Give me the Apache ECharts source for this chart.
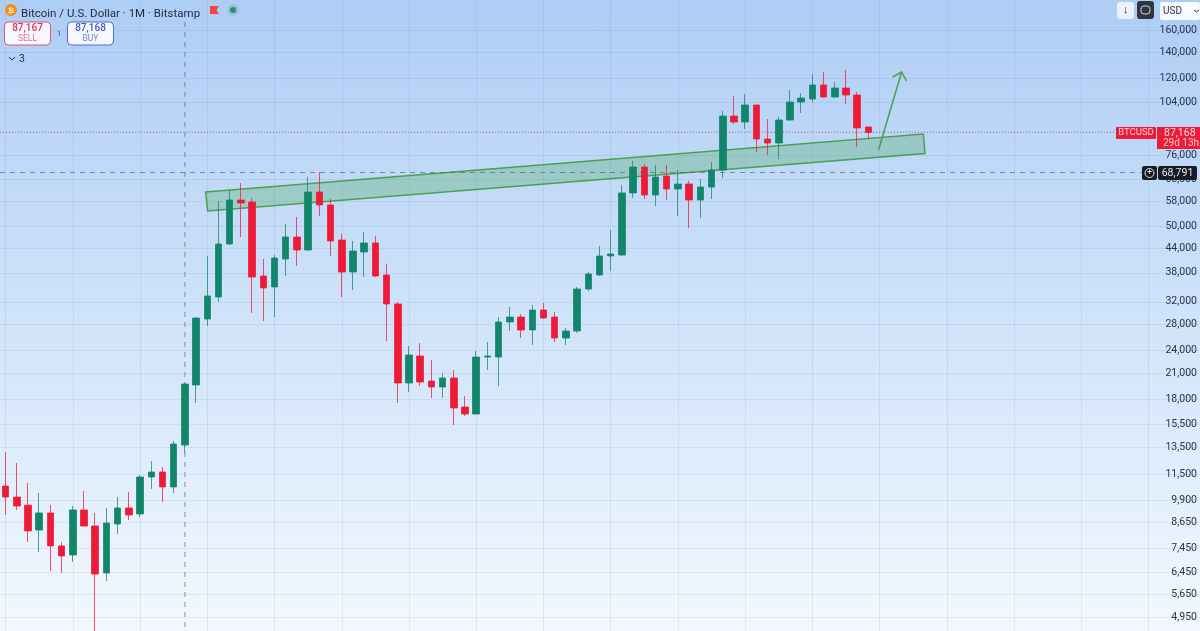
<!DOCTYPE html>
<html>
<head>
<meta charset="utf-8">
<style>
  html, body { margin: 0; padding: 0; }
  #main { width: 1200px; height: 631px; }
</style>
<script src="https://cdn.jsdelivr.net/npm/echarts@6/dist/echarts.min.js"></script>
</head>
<body>
<div id="main"></div>
<script>
// monthly BTCUSD candles, Jul 2019 to Dec 2025
const opens = [10750,10070,9600,8285,9165,7540,7145,9330,8485,6425,8585,9440,9110,11340,11680,10690,13710,19555,28900,32930,45065,58470,57780,37285,34935,41230,46970,43490,61310,56770,46140,38175,42975,45330,37505,31590,19785,23215,20020,19325,20380,17160,16465,23075,23075,28400,29245,27080,30480,29245,25820,26920,34525,37505,41975,42225,60960,71060,60230,67390,62410,64290,58470,63130,69840,96120,92800,102630,83905,81950,93900,104470,106340,115540,107590,113500,108880,90100]
const closes = [10075,9550,8240,9165,7540,7105,9330,8485,6385,8635,9440,9055,11340,11680,10690,13790,19670,29070,33125,45065,58470,57440,37065,34730,41480,46970,43490,61310,56770,45870,38175,43235,45330,37285,31590,19785,23350,19900,19325,20380,17065,16465,23075,23215,28400,29245,27080,30480,29075,25820,26920,34525,37730,41975,42475,60960,71060,60230,66990,62410,64290,58470,63130,69840,96120,92800,102630,83905,81950,93900,104470,106960,115540,107590,113500,108880,89560,87168]
const lows = [9055,9330,7720,7275,6500,6425,6855,8435,3900,6125,8090,8790,8950,10565,9780,10315,13065,17575,27730,31960,44800,46970,29945,28560,29245,37285,39565,43235,53190,41975,32930,34320,37065,37065,25370,17575,18755,19440,18100,18100,15430,16275,16420,21370,19440,26920,25820,24770,28900,25220,24770,26605,34120,37285,38400,41975,59170,58815,56430,58470,53190,49540,52560,58815,66600,91700,89030,77690,76330,74540,93350,97880,104470,107400,106960,103250,80020,83905]
const highs = [13140,12320,10950,10320,9610,7720,9550,10440,9165,9440,10075,10375,11475,12465,12030,14035,19790,29245,41975,58125,62040,64670,59170,41230,42225,50730,52865,66990,69015,58815,47810,45870,48375,47250,40030,31960,24630,25075,22670,21000,21370,18320,23910,25220,29245,31020,29775,31400,31775,30120,27400,34935,38175,44540,48950,63910,73660,72380,71950,71950,69840,65430,66210,73230,99040,108230,109550,102700,94460,95580,112160,110200,123320,124770,117600,126260,110840,90100]

const gridPrices = [160000,140000,120000,104000,88000,76000,66000,58000,50000,44000,38000,32000,28000,24000,21000,18000,15500,13500,11500,9900,8650,7450,6450,5650,4950]
// 88,000 sits behind the price tag, so it has a line but no label
const labelPrices = [160000,140000,120000,104000,76000,66000,58000,50000,44000,38000,32000,28000,24000,21000,18000,15500,13500,11500,9900,8650,7450,6450,5650,4950]
const lastPrice = 87168
const crossPrice = 68791

// crosshair, drawn trend channel and arrow, [candle index, price]
const crossLine = [[16,167800],[16,4556]]
const channelPoints = [[17.85,61310],[81.9,86440],[82.05,77000],[18.03,54785]]
const arrowShaft = [[77.9,78620],[79.96,124770]]
const arrowHead = [[79.15,121150],[79.96,124770],[80.4,118300]]

const slotCount = 107
const months = []
for (let i = 0; i < slotCount; i++) {
  const m = 6 + i
  months.push((2019 + Math.floor(m / 12)) + '-' + String(m % 12 + 1).padStart(2, '0'))
}

const UP = '#12866a'
const DOWN = '#ee1b38'
const LINE = 'rgba(70,100,140,0.10)'
const CROSS = 'rgba(80,95,120,0.65)'
const GREEN = '#4b9f50'
const FONT = 'Roboto, sans-serif'

const candles = opens.map((o, i) => [o, closes[i], lows[i], highs[i]])

function txt (x, y, text, size, fill, align, weight) {
  return {
    type: 'text', x, y, z: 20,
    style: { text, font: (weight || 400) + ' ' + size + 'px ' + FONT, fill, align: align || 'left', verticalAlign: 'middle' }
  }
}
function box (x, y, w, h, fill, stroke, r) {
  return {
    type: 'rect', z: 19, shape: { x, y, width: w, height: h, r: r || 0 },
    style: { fill, stroke: stroke || null, lineWidth: 1 }
  }
}

let myChart = echarts.init(document.getElementById('main'), null, { renderer: 'canvas' })
myChart.setOption({
  animation: false,
  backgroundColor: {
    type: 'linear', x: 0, y: 0, x2: 0, y2: 1,
    colorStops: [
      { offset: 0, color: '#aecdf5' },
      { offset: 0.5, color: '#cfe3fa' },
      { offset: 1, color: '#f3f8fe' }
    ]
  },
  title: {
    text: 'Bitcoin / U.S. Dollar · 1M · Bitstamp',
    left: 16, top: 3,
    textStyle: { fontFamily: FONT, fontSize: 11.5, fontWeight: 400, color: '#1d2740' }
  },
  grid: { left: -0.9, right: 0, top: 0, bottom: 0 },
  xAxis: [
    {
      type: 'category',
      data: months,
      boundaryGap: true,
      axisLine: { show: false },
      axisTick: { show: false },
      axisLabel: { show: false },
      splitLine: { show: true, alignWithLabel: true, interval: i => i % 6 === 0, lineStyle: { color: LINE } }
    },
    { type: 'value', show: false, min: -0.5, max: slotCount - 0.5 }
  ],
  yAxis: {
    type: 'log',
    position: 'right',
    min: 4556,
    max: 191100,
    axisLine: { show: false },
    axisTick: { show: false, customValues: gridPrices },
    splitLine: { show: true, lineStyle: { color: LINE } },
    axisLabel: {
      inside: true,
      customValues: labelPrices,
      margin: 2,
      fontFamily: FONT,
      fontSize: 10.5,
      color: '#27324a',
      formatter: v => Number(v).toLocaleString('en-US')
    }
  },
  series: [
    {
      type: 'candlestick',
      z: 3,
      data: candles,
      barWidth: 7,
      itemStyle: {
        color: UP,
        color0: DOWN,
        borderColor: 'rgba(18,134,106,0.75)',
        borderColor0: 'rgba(238,27,56,0.75)',
        borderWidth: 1
      },
      markLine: {
        silent: true,
        symbol: 'none',
        label: { show: false },
        data: [
          { yAxis: lastPrice, lineStyle: { color: 'rgba(225,60,90,0.7)', type: [1, 2], width: 1 } },
          { yAxis: crossPrice, lineStyle: { color: CROSS, type: [5, 5], width: 1 } }
        ]
      }
    },
    {
      type: 'custom',
      xAxisIndex: 1,
      silent: true,
      z: 2,
      data: [0],
      renderItem: (params, api) => ({
        type: 'group',
        children: [
          {
            type: 'polyline',
            shape: { points: crossLine.map(p => api.coord(p)) },
            style: { fill: null, stroke: CROSS, lineWidth: 1, lineDash: [5, 5] }
          },
          {
            type: 'polygon',
            shape: { points: channelPoints.map(p => api.coord(p)) },
            style: { fill: 'rgba(70,165,85,0.3)', stroke: GREEN, lineWidth: 1.5 }
          },
          {
            type: 'polyline',
            shape: { points: arrowShaft.map(p => api.coord(p)) },
            style: { fill: null, stroke: GREEN, lineWidth: 1.5 }
          },
          {
            type: 'polyline',
            shape: { points: arrowHead.map(p => api.coord(p)) },
            style: { fill: null, stroke: GREEN, lineWidth: 1.5 }
          }
        ]
      })
    }
  ],
  graphic: [
    // header
    { type: 'circle', z: 20, shape: { cx: 11, cy: 10, r: 6 }, style: { fill: '#f28e1c' } },
    txt(11, 10.5, '₿', 8, '#fde3c0', 'center', 700),
    { type: 'polygon', z: 20, shape: { points: [[210, 6], [219, 6], [216.5, 10], [219, 14], [210, 14]] }, style: { fill: '#f2453d' } },
    { type: 'circle', z: 20, shape: { cx: 233, cy: 10, r: 5.5 }, style: { fill: 'rgba(80,170,150,0.3)' } },
    { type: 'circle', z: 20, shape: { cx: 233, cy: 10, r: 3 }, style: { fill: '#2a8f78' } },
    // sell / buy
    box(4.5, 22, 46, 23, '#f5f8fe', '#e0566a', 4),
    txt(27.5, 28.5, '87,167', 10, '#d23a55', 'center', 500),
    txt(27.5, 39, 'SELL', 8.5, '#e0708a', 'center'),
    txt(59, 34, '1', 8, '#3a5a8a', 'center'),
    box(67.5, 22, 46, 23, '#f5f8fe', '#5a6cc8', 4),
    txt(90.5, 28.5, '87,168', 10, '#4a5cb8', 'center', 500),
    txt(90.5, 39, 'BUY', 8.5, '#7585cc', 'center'),
    { type: 'polyline', z: 20, shape: { points: [[9, 57], [12, 60], [15, 57]] }, style: { fill: null, stroke: '#27324a', lineWidth: 1 } },
    txt(19, 59, '3', 10.5, '#27324a'),
    // top right buttons
    box(1117, 2, 17, 17, '#eaf2fd', null, 3),
    txt(1125.5, 10.5, '↓', 11, '#27324a', 'center'),
    box(1137, 1, 17, 18, '#2f3640', null, 3),
    { type: 'rect', z: 20, shape: { x: 1141, y: 6, width: 9, height: 8, r: 3 }, style: { fill: null, stroke: '#cdd3dc', lineWidth: 1 } },
    box(1160, 2, 40, 18, '#f8fbff', null, 2),
    txt(1163, 11, 'USD', 10, '#27324a'),
    { type: 'polyline', z: 20, shape: { points: [[1194, 10], [1196.5, 12], [1199, 10]] }, style: { fill: null, stroke: '#27324a', lineWidth: 1 } },
    // price tags
    box(1116, 127, 40, 12, DOWN, null, 1),
    txt(1136, 133, 'BTCUSD', 9.5, '#fbd3d8', 'center'),
    box(1157, 127, 43, 22, DOWN, null, 0),
    txt(1164, 133, '87,168', 10.5, '#fde0e3'),
    txt(1163, 143, '29d 13h', 10, '#fbc6cc'),
    box(1142, 166, 15, 14, '#161b24', null, 2),
    { type: 'circle', z: 20, shape: { cx: 1149.5, cy: 173, r: 4.5 }, style: { fill: null, stroke: '#e5e8ee', lineWidth: 1 } },
    txt(1149.5, 173, '+', 9, '#e5e8ee', 'center'),
    box(1158, 166, 39, 14, '#161b24', null, 2),
    txt(1177.5, 173, '68,791', 10.5, '#e5e8ee', 'center')
  ]
})
</script>
</body>
</html>
